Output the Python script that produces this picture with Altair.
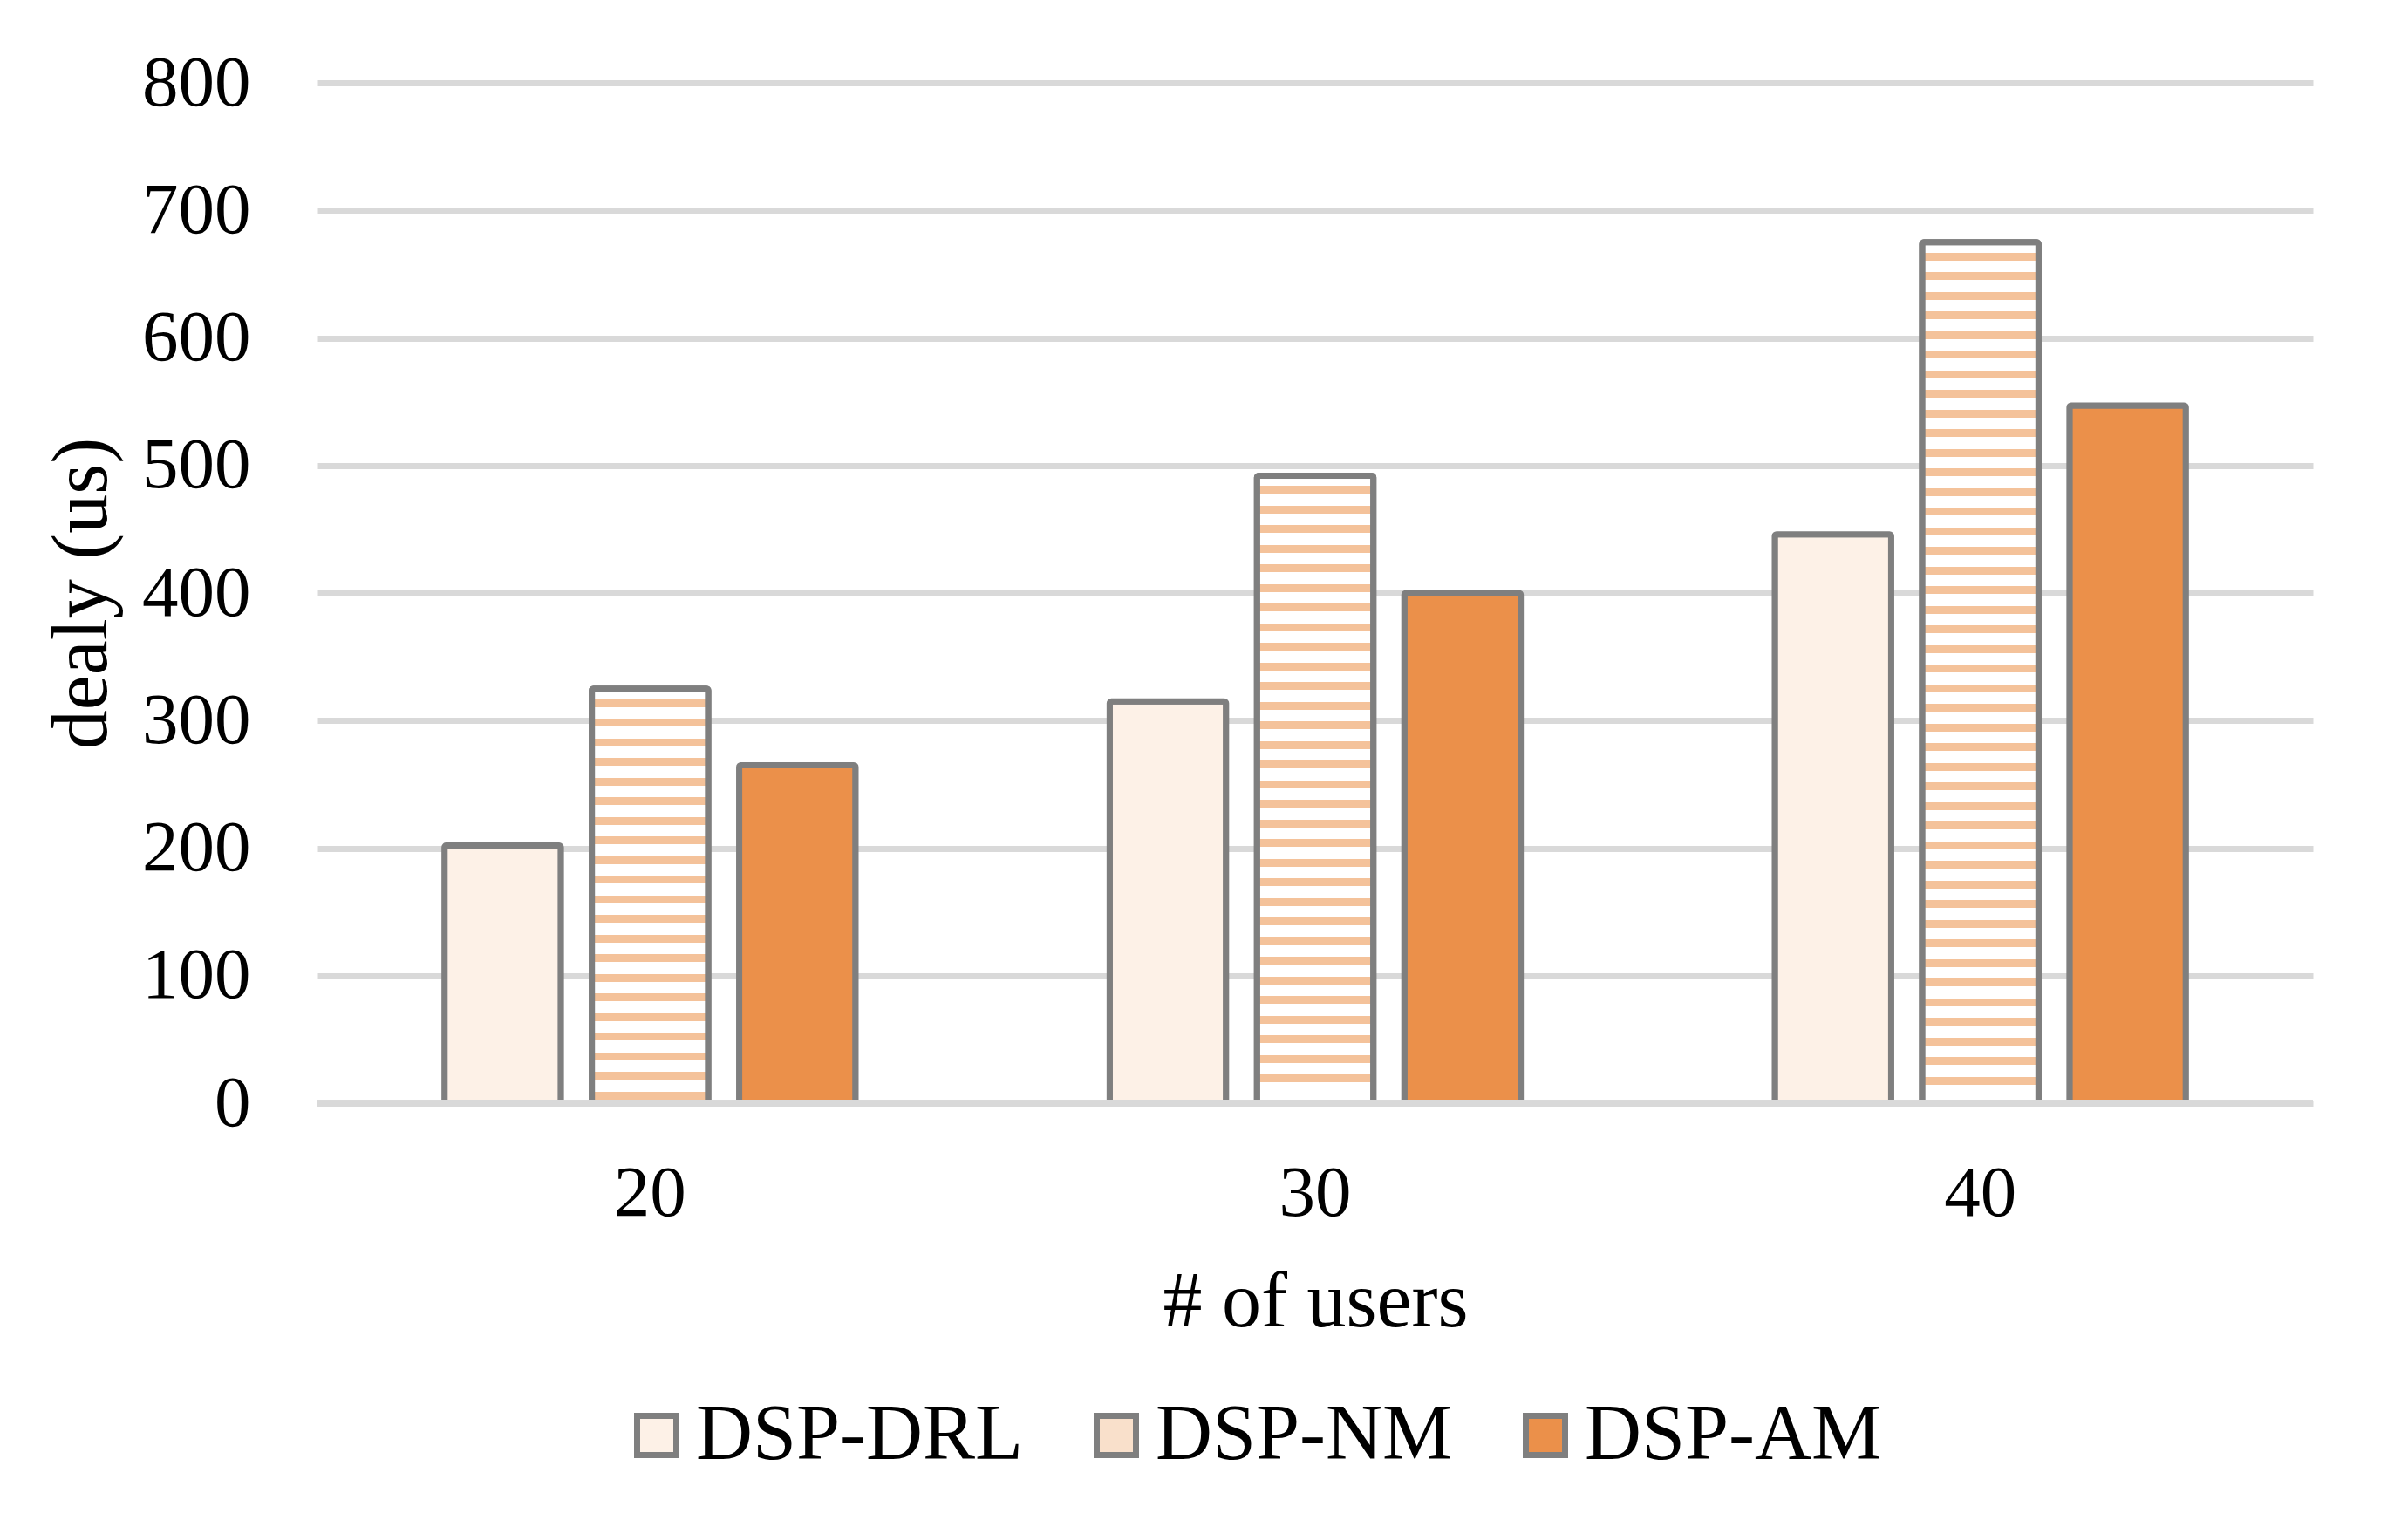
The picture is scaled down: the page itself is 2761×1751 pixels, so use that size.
import altair as alt
import pandas as pd

# ---- data ----
users = ["20", "30", "40"]
methods = ["DSP-DRL", "DSP-NM", "DSP-AM"]
drl = [202, 315, 446]
nm = [325, 492, 675]
am = [265, 400, 547]
y_ticks = [0, 100, 200, 300, 400, 500, 600, 700, 800]

records = []
for i, u in enumerate(users):
    for m, vals in zip(methods, [drl, nm, am]):
        records.append({"users": u, "method": m, "delay": vals[i]})
df = pd.DataFrame(records)

# ---- styling ----
W, H = 2288, 1170
YMAX = 800
FONT = "Liberation Serif"
GRAY = "#7F7F7F"
GRID = "#D9D9D9"
BAND = "#F4C29A"
fills = ["#FDF1E7", "#F9E0CB", "#EB904A"]


def stripes(value):
    """horizontal hatch texture for the NM bars (approx. 22.5px pitch)"""
    h = value / YMAX * H
    pitch, band, start = 22.5, 9.0, 12.0
    stops = [{"offset": 0, "color": "#FFFFFF"}]
    y = start
    while y + band < h - 4:
        o1, o2 = y / h, (y + band) / h
        stops += [
            {"offset": o1, "color": "#FFFFFF"},
            {"offset": o1, "color": BAND},
            {"offset": o2, "color": BAND},
            {"offset": o2, "color": "#FFFFFF"},
        ]
        y += pitch
    stops.append({"offset": 1, "color": "#FFFFFF"})
    return {"gradient": "linear", "x1": 0, "y1": 0, "x2": 0, "y2": 1, "stops": stops}


x_enc = alt.X(
    "users:N",
    sort=users,
    title="# of users",
    scale=alt.Scale(paddingInner=0.382, paddingOuter=0.191),
    axis=alt.Axis(
        labelAngle=0,
        labelFontSize=83,
        labelFont=FONT,
        labelColor="black",
        labelBaseline="alphabetic",
        labelPadding=128,
        ticks=False,
        domain=False,
        grid=False,
        titleFontSize=90,
        titleFont=FONT,
        titleFontWeight="normal",
        titleColor="black",
        titleBaseline="alphabetic",
        titleY=255,
    ),
)
xoff_enc = alt.XOffset(
    "method:N", sort=methods, scale=alt.Scale(domain=methods, paddingInner=0.21, paddingOuter=0)
)
y_enc = alt.Y(
    "delay:Q",
    title="dealy (us)",
    scale=alt.Scale(domain=[0, YMAX], nice=False, zero=True),
    axis=alt.Axis(
        values=y_ticks,
        labelFontSize=83,
        labelFont=FONT,
        labelColor="black",
        labelPadding=77,
        ticks=False,
        domain=False,
        grid=True,
        gridColor=GRID,
        gridWidth=7,
        titleFontSize=90,
        titleFont=FONT,
        titleFontWeight="normal",
        titleColor="black",
        titleBaseline="alphabetic",
        titleX=-243,
    ),
)

base = alt.Chart(df)

bars = base.mark_bar(stroke=GRAY, strokeWidth=7, cornerRadius=2).encode(
    x=x_enc,
    xOffset=xoff_enc,
    y=y_enc,
    fill=alt.Fill(
        "method:N",
        sort=methods,
        scale=alt.Scale(domain=methods, range=fills),
        legend=alt.Legend(
            title=None,
            orient="none",
            legendX=344,
            legendY=1506,
            direction="horizontal",
            symbolType="square",
            symbolSize=2025,
            symbolStrokeColor=GRAY,
            symbolStrokeWidth=7,
            symbolOpacity=1,
            labelFontSize=90,
            labelFont=FONT,
            labelColor="black",
            labelLimit=0,
            labelOffset=0,
            columnPadding=61,
            padding=0,
        ),
    ),
)

nm_layers = []
for u, v in zip(users, nm):
    nm_layers.append(
        base.transform_filter((alt.datum.method == "DSP-NM") & (alt.datum.users == u))
        .mark_bar(stroke=GRAY, strokeWidth=7, cornerRadius=2, fill=stripes(v))
        .encode(x=x_enc, xOffset=xoff_enc, y=y_enc)
    )

zero_line = base.mark_rule(color=GRID, strokeWidth=7).encode(y=alt.datum(0))

chart = (
    alt.layer(bars, *nm_layers, zero_line)
    .properties(
        width=W,
        height=H,
        autosize=alt.AutoSizeParams(type="none"),
        padding={"left": 356, "top": 87, "right": 100, "bottom": 470},
        background="white",
    )
    .configure(font=FONT)
    .configure_view(stroke="transparent", strokeWidth=0)
)

chart.save("out.html", embed_options={"renderer": "svg", "actions": False})
